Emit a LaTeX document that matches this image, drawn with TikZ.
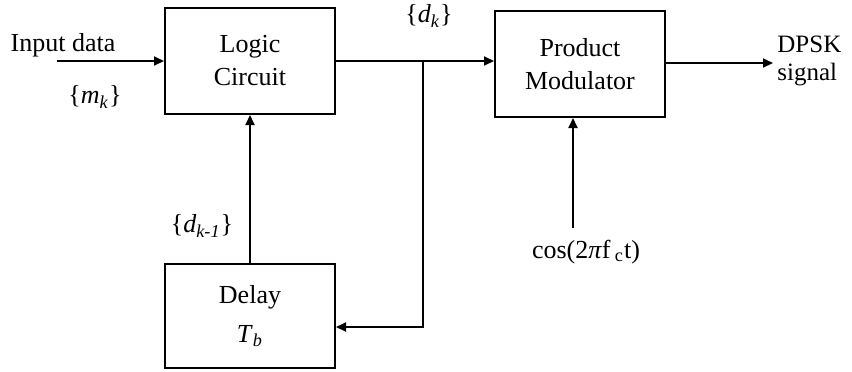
\documentclass[tikz,border=0pt]{standalone}
\usepackage{fontspec}
\setmainfont{Liberation Serif}
\usetikzlibrary{arrows.meta}
\newcommand{\seqlbl}[2]{\{\textit{#1}\textsubscript{\textit{#2}}\}}

\begin{document}
\begin{tikzpicture}[x=0.5pt,y=-0.5pt,
    blk/.style={rectangle,draw=black,line width=1pt,minimum width=85pt,minimum height=53pt,
                align=center,font=\fontsize{13}{16.5}\selectfont},
    lbl/.style={inner sep=0pt,font=\fontsize{13}{15}\selectfont},
    sig/.style={inner sep=0pt,font=\fontsize{13}{15}\selectfont},
    ar/.style={-{Triangle[length=5pt,width=4.5pt]},line width=1pt}
  ]
  \useasboundingbox (0,0) rectangle (852,371);
  \node[blk] (logic) at (250,61) {Logic\\Circuit};
  \node[blk] (prod) at (580,64) {Product\\Modulator};
  \node[blk,minimum height=52pt] (delay) at (250,316) {Delay\\[3pt]\textit{T}\textsubscript{\textit{b}}};

  \coordinate (in) at (57,61);
  \coordinate (jn) at (423,61);
  \coordinate (out) at (773,63);
  \coordinate (car) at (573,228);
  \coordinate (fb) at (423,327);

  \node[lbl] (indata) at (63,45) {Input data};
  \node[sig] (mk) at (95,97) {\seqlbl{m}{k}};
  \node[sig] (dk) at (429,16) {\seqlbl{d}{k}};
  \node[sig] (dk1) at (202,226) {\seqlbl{d}{k-1}};
  \node[lbl,anchor=west,align=left,font=\fontsize{12.5}{14}\selectfont] (dpsk) at (777,61) {DPSK\\signal};
  \node[lbl] (cos) at (586,252) {cos(2\textit{π}f\,\textsubscript{c}t)};

  \draw[ar] (in) -- (logic.west|-in);
  \draw[ar] (logic.east|-jn) -- (prod.west|-jn);
  \draw[ar] (prod.east|-out) -- (out);
  \draw[ar] (car) -- (prod.south-|car);
  \draw[ar] (delay.north) -- (logic.south);
  \draw[ar] (jn) -- (fb) -- (delay.east|-fb);
\end{tikzpicture}
\end{document}
